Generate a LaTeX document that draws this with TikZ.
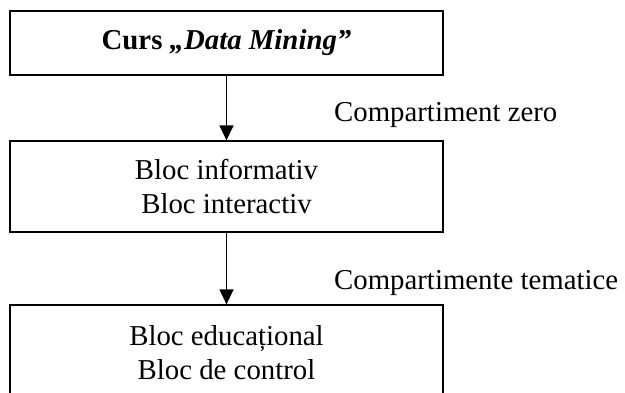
\documentclass[tikz,border=0pt]{standalone}
\usepackage{fontspec}
\setmainfont{Liberation Serif}
\usetikzlibrary{arrows.meta}

\tikzset{
  block/.style={draw, line width=1.3pt, minimum width=433pt, align=center,
    inner sep=0pt, font=\fontsize{28.8}{34}\selectfont},
  flow/.style={line width=1.3pt, -{Triangle[length=15pt,width=14pt]}},
  tag/.style={anchor=base west, inner sep=0pt, font=\fontsize{28.8}{34}\selectfont}
}

\begin{document}
\begin{tikzpicture}[x=1pt, y=-1pt]
  \useasboundingbox (0,0) rectangle (625,392);

  % the three stacked blocks
  \node[block, minimum height=64pt] (curs) at (226.5,43)
    {\textbf{Curs \textit{„Data Mining”}}};
  \node[block, minimum height=91pt] (zero) at (226.5,186.5)
    {Bloc informativ\\Bloc interactiv};
  \node[block, minimum height=96pt] (tema) at (226.5,353)
    {Bloc educațional\\Bloc de control};

  % connectors between blocks
  \draw[flow] (curs.south) -- (zero.north);
  \draw[flow] (zero.south) -- (tema.north);

  % section captions beside the connectors
  \node[tag] (lz) at (334,121) {Compartiment zero};
  \node[tag] (lt) at (334,289) {Compartimente tematice};
\end{tikzpicture}
\end{document}
